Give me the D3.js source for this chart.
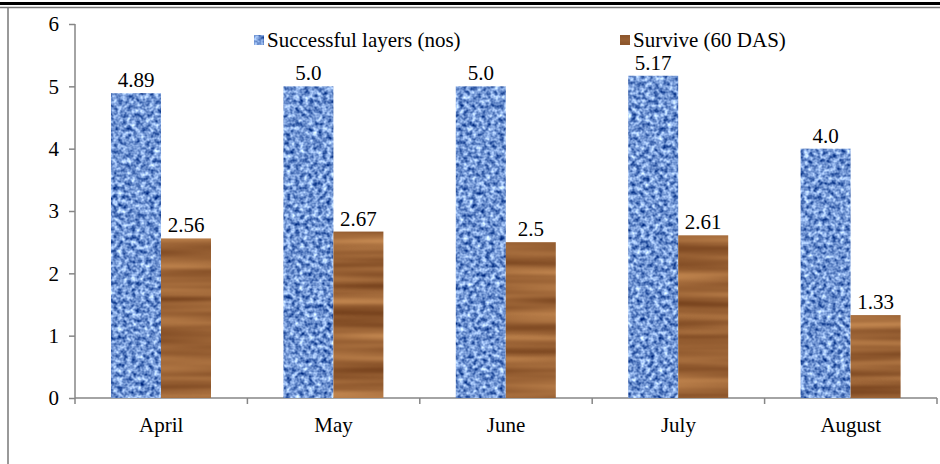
<!DOCTYPE html>
<html>
<head>
<meta charset="utf-8">
<script src="https://cdn.jsdelivr.net/npm/d3@7"></script>
<style>
  body { margin: 0; background: #fff; }
  svg text { font-family: "Liberation Serif", "DejaVu Serif", serif; }
</style>
</head>
<body>
<div id="chart"></div>
<script>
// data
const months = ["April", "May", "June", "July", "August"];
const layers = [4.89, 5.0, 5.0, 5.17, 4.0];
const survive = [2.56, 2.67, 2.5, 2.61, 1.33];
const layerLabels = ["4.89", "5.0", "5.0", "5.17", "4.0"];
const surviveLabels = ["2.56", "2.67", "2.5", "2.61", "1.33"];
const yTicks = [0, 1, 2, 3, 4, 5, 6];
const seriesNames = ["Successful layers (nos)", "Survive (60 DAS)"];

const W = 940, H = 464;
const margin = { top: 24, right: 3, bottom: 66, left: 75 };
const FONT = "Liberation Serif, DejaVu Serif, serif";
const FS = 21;

const svg = d3.select("#chart").append("svg")
  .attr("width", W).attr("height", H)
  .style("display", "block");

// textures
const defs = svg.append("defs");
function texture(id, freq, octaves, matrix) {
  const f = defs.append("filter").attr("id", id)
    .attr("x", 0).attr("y", 0).attr("width", 1).attr("height", 1)
    .attr("color-interpolation-filters", "sRGB");
  f.append("feTurbulence").attr("type", "fractalNoise")
    .attr("baseFrequency", freq).attr("numOctaves", octaves).attr("seed", 7)
    .attr("result", "noise");
  f.append("feColorMatrix").attr("in", "noise").attr("type", "matrix")
    .attr("values", matrix).attr("result", "col");
  f.append("feComposite").attr("in", "col").attr("in2", "SourceGraphic").attr("operator", "in");
}
texture("blueTex", "0.22 0.22", 2,
  "1.3 0 0 0 -0.20  1.2 0 0 0 -0.01  0.9 0 0 0 0.38  0 0 0 0 1");
texture("woodTex", "0.004 0.09", 2,
  "0.42 0 0 0 0.40  0.38 0 0 0 0.20  0.28 0 0 0 0.07  0 0 0 0 1");

// frame lines
svg.append("rect").attr("x", 0).attr("y", 2).attr("width", W).attr("height", 3).attr("fill", "#000");
svg.append("line").attr("x1", 0).attr("x2", W).attr("y1", 7.5).attr("y2", 7.5)
  .attr("stroke", "#777").attr("stroke-width", 1.5);
svg.append("line").attr("x1", 8).attr("x2", 8).attr("y1", 7).attr("y2", H)
  .attr("stroke", "#777").attr("stroke-width", 1.5);

const x = d3.scaleBand().domain(months).range([margin.left, W - margin.right]);
const y = d3.scaleLinear().domain([0, 6]).range([H - margin.bottom, margin.top]);
const barW = 50;
const off = 36;

// y axis
const yAxis = svg.append("g")
  .attr("transform", `translate(${margin.left},0)`)
  .call(d3.axisLeft(y).tickValues(yTicks).tickSize(6).tickPadding(10).tickFormat(d3.format("d")))
  .attr("font-family", FONT).attr("font-size", FS);
yAxis.select(".domain").attr("stroke", "#868686").attr("stroke-width", 1.5).attr("d", `M0,${y(6)}V${y(0)}`);
yAxis.selectAll(".tick line").attr("stroke", "#868686").attr("stroke-width", 1.5);
yAxis.selectAll(".tick text").attr("fill", "#000");

// x axis
const xg = svg.append("g").attr("transform", `translate(0,${y(0)})`);
xg.append("line").attr("x1", margin.left).attr("x2", W - margin.right)
  .attr("stroke", "#868686").attr("stroke-width", 1.5);
const edges = months.map(m => x(m)).concat([x.range()[1]]);
xg.selectAll(".edge").data(edges).join("line")
  .attr("x1", d => d).attr("x2", d => d).attr("y1", 0).attr("y2", 6)
  .attr("stroke", "#868686").attr("stroke-width", 1.5);
xg.selectAll(".cat").data(months).join("text")
  .attr("x", d => x(d) + x.bandwidth() / 2).attr("y", 34)
  .attr("text-anchor", "middle").attr("font-family", FONT).attr("font-size", FS).text(d => d);

// bars
const g = svg.append("g");
g.selectAll(".b1").data(months).join("rect")
  .attr("x", d => x(d) + off).attr("width", barW)
  .attr("y", (d, i) => y(layers[i])).attr("height", (d, i) => y(0) - y(layers[i]))
  .attr("fill", "#6f93d3").attr("filter", "url(#blueTex)");
g.selectAll(".b2").data(months).join("rect")
  .attr("x", d => x(d) + off + barW).attr("width", barW)
  .attr("y", (d, i) => y(survive[i])).attr("height", (d, i) => y(0) - y(survive[i]))
  .attr("fill", "#9a6a3a").attr("filter", "url(#woodTex)");

// value labels
g.selectAll(".l1").data(months).join("text")
  .attr("x", d => x(d) + off + barW / 2).attr("y", (d, i) => y(layers[i]) - 6)
  .attr("text-anchor", "middle").attr("font-family", FONT).attr("font-size", FS)
  .text((d, i) => layerLabels[i]);
g.selectAll(".l2").data(months).join("text")
  .attr("x", d => x(d) + off + barW * 1.5).attr("y", (d, i) => y(survive[i]) - 6)
  .attr("text-anchor", "middle").attr("font-family", FONT).attr("font-size", FS)
  .text((d, i) => surviveLabels[i]);

// legend
const legend = svg.append("g").attr("font-family", FONT).attr("font-size", FS);
const legX = [254, 620];
const legFill = ["#6f93d3", "#9a6a3a"];
const legFilter = ["url(#blueTex)", "url(#woodTex)"];
seriesNames.forEach((name, i) => {
  legend.append("rect").attr("x", legX[i]).attr("y", 35).attr("width", 10).attr("height", 10)
    .attr("fill", legFill[i]).attr("filter", legFilter[i]);
  legend.append("text").attr("x", legX[i] + 13).attr("y", 47).text(name);
});
</script>
</body>
</html>
